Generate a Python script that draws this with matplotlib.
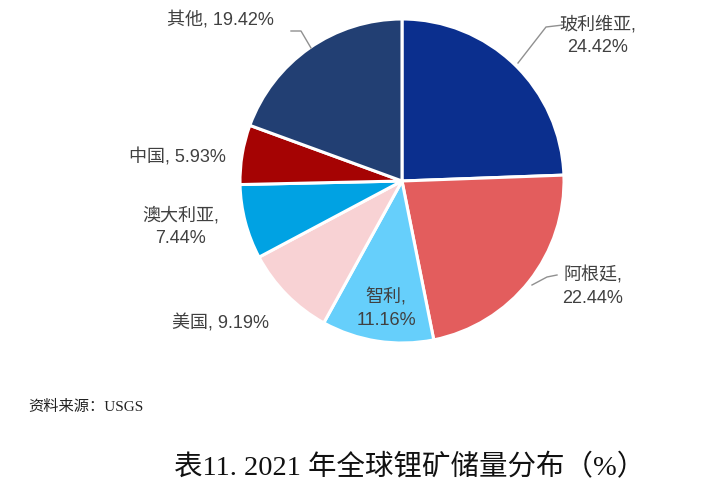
import matplotlib.pyplot as plt

plt.rcParams['font.family'] = ['Liberation Sans', 'Noto Sans CJK SC', 'DejaVu Sans']

# Data
countries = ['玻利维亚', '阿根廷', '智利', '美国', '澳大利亚', '中国', '其他']
shares = [24.42, 22.44, 11.16, 9.19, 7.44, 5.93, 19.42]
colors = ['#0B2F8E', '#E35D5D', '#66CFFB', '#F8D2D4', '#00A2E3', '#A50303', '#223F73']

W, H = 715, 500
fig = plt.figure(figsize=(W / 100, H / 100), dpi=100)
ax = fig.add_axes([0, 0, 1, 1])

cx, cy, r = 402, H - 181, 162
ax.pie(shares, colors=colors, startangle=90, counterclock=False,
       center=(cx, cy), radius=r,
       wedgeprops=dict(edgecolor='white', linewidth=2.2))
ax.set_xlim(0, W)
ax.set_ylim(0, H)
ax.set_aspect('equal')
ax.axis('off')

tc = '#404040'
fs = 13

def lab(i):
    return '%s, %.2f%%' % (countries[i], shares[i])

def lab2(i):
    return '%s,\n%.2f%%' % (countries[i], shares[i])

# label positions (pixel coords from top)
ax.text(598, H - 36, lab2(0), ha='center', va='center', fontsize=fs, color=tc, linespacing=1.4)
ax.text(593, H - 287, lab2(1), ha='center', va='center', fontsize=fs, color=tc, linespacing=1.4)
ax.text(386, H - 309, lab2(2), ha='center', va='center', fontsize=fs, color=tc, linespacing=1.4)
ax.text(221, H - 323, lab(3), ha='center', va='center', fontsize=fs, color=tc)
ax.text(181, H - 227, lab2(4), ha='center', va='center', fontsize=fs, color=tc, linespacing=1.4)
ax.text(177, H - 157, lab(5), ha='center', va='center', fontsize=fs, color=tc)
ax.text(220, H - 20, lab(6), ha='center', va='center', fontsize=fs, color=tc)

# leader lines
lc = '#909090'
ax.plot([563, 546, 518], [H - 25, H - 27, H - 63], color=lc, lw=1)
ax.plot([557, 547, 532], [H - 275, H - 277, H - 285], color=lc, lw=1)
ax.plot([291, 301, 311], [H - 31, H - 31, H - 48], color=lc, lw=1)

serif = ['Liberation Serif', 'Noto Sans CJK SC', 'DejaVu Sans']
fig.text(28 / W, 1 - 407 / H, '资料来源：USGS', ha='left', va='center', fontsize=11,
         color='#222222', family=serif)
fig.text(410 / W, 1 - 468 / H, '表11. 2021 年全球锂矿储量分布（%）', ha='center', va='center',
         fontsize=20.5, color='#111111', family=serif)

fig.savefig('out.png', dpi=100)
